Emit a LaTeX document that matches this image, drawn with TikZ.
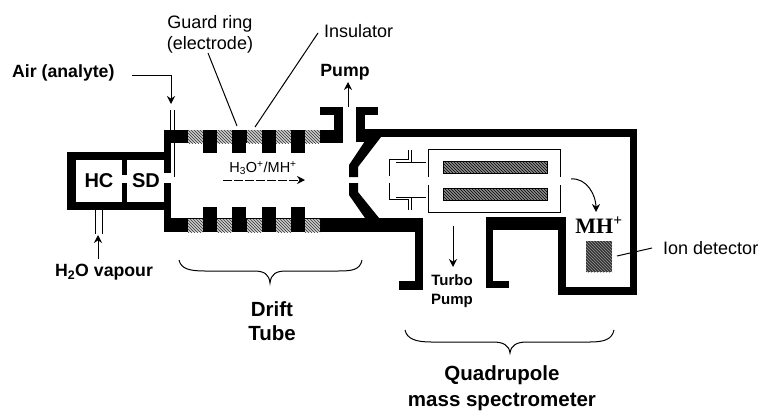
\documentclass[tikz,border=0pt]{standalone}
\usepackage{fontspec}
\setmainfont{Liberation Sans}
\newfontfamily\serifbold{Liberation Serif}[Ligatures=TeX]
\usetikzlibrary{patterns,arrows.meta}
\begin{document}
\begin{tikzpicture}[
		x=1pt,y=-1pt,
		wall/.style={fill=black,draw=none},
		insulator/.style={fill=black!20,postaction={pattern=north west lines,pattern color=black!80}},
		rod/.style={draw=black,line width=0.8pt,fill=black!45,postaction={pattern=north west lines,pattern color=black}},
		thin wire/.style={line width=1pt},
		leader/.style={line width=1pt},
		flow/.style={line width=1pt,-{Stealth[length=8pt,width=8pt]}},
		brace line/.style={line width=1pt},
		label/.style={font=\fontsize{18}{21}\selectfont,inner sep=0pt,align=center},
		bold label/.style={font=\fontsize{17.7}{21}\selectfont\bfseries,inner sep=0pt,align=center},
		box label/.style={font=\fontsize{20}{22}\selectfont\bfseries,inner sep=0pt},
		big label/.style={font=\fontsize{20.5}{24}\selectfont\bfseries,inner sep=0pt,align=center}
	]
	\useasboundingbox (0,0) rectangle (760,410);
	% source box
	\fill[wall] (67,152) rectangle (171,160);
	\fill[wall] (67,202) rectangle (171,210);
	\fill[wall] (67,152) rectangle (76,210);
	\fill[wall] (122,152) rectangle (127,175);
	\fill[wall] (122,183) rectangle (127,210);
	\fill[wall] (164,130) rectangle (171,173);
	\fill[wall] (164,183) rectangle (171,232);
	% drift tube
	\fill[wall] (164,130) rectangle (343,143);
	\fill[wall] (164,218) rectangle (423,232);
	\fill[wall] (334,107) rectangle (343,143);
	\fill[wall] (320,107) rectangle (343,115);
	\fill[wall] (415,218) rectangle (423,290);
	\fill[wall] (399,281) rectangle (423,290);
	\foreach \xpos in {188,217,247,276,305}{
		\fill[insulator] (\xpos,130) rectangle ++(15,13);
		\fill[insulator] (\xpos,219) rectangle ++(15,13);
	}
	\foreach \xpos in {203,232,262,291}{
		\fill[wall] (\xpos,130) rectangle ++(14,23);
		\fill[wall] (\xpos,207) rectangle ++(14,25);
	}
	% skimmer cone
	\fill[wall] (365,137) -- (381,137) -- (358,167) -- (358,177) -- (349,177) -- (349,165) -- (365,141) -- cycle;
	\fill[wall] (349,183) -- (358,183) -- (358,192) -- (379,218) -- (365,218) -- (349,195) -- cycle;
	% mass spectrometer housing
	\fill[wall] (356,107) rectangle (378,115);
	\fill[wall] (356,107) rectangle (365,142);
	\fill[wall] (356,129) rectangle (637,137);
	\fill[wall] (630,129) rectangle (637,295);
	\fill[wall] (558,287) rectangle (637,295);
	\fill[wall] (558,217) rectangle (566,295);
	\fill[wall] (486,217) rectangle (566,230);
	\fill[wall] (486,217) rectangle (493,288);
	\fill[wall] (486,281) rectangle (509,288);
	% quadrupole
	\draw[thin wire] (428,177) |- (560,149) -- (560,177);
	\draw[thin wire] (428,185) |- (560,212) -- (560,185);
	\filldraw[rod] (443,161) rectangle (547,173);
	\filldraw[rod] (443,188) rectangle (547,200);
	\draw[thin wire] (389,176) |- (408,159) -- (408,150);
	\draw[thin wire] (411,150) -- (411,162);
	\draw[thin wire] (396,162) -- (426,162);
	\draw[thin wire] (389,183) |- (408,199) -- (408,210);
	\draw[thin wire] (411,197) -- (411,210);
	\draw[thin wire] (396,197) -- (426,197);
	% ion detector
	\fill[black!80,postaction={pattern=north west lines,pattern color=black!40}] (586,241) rectangle (612,272);
	% inlets
	\draw[thin wire] (170,110) -- (170,130);
	\draw[thin wire] (174,110) -- (174,177);
	\draw[thin wire] (95,210) -- (95,234);
	\draw[thin wire] (102,210) -- (102,234);
	% labels
	\node[box label] (hc) at (99,181) {HC};
	\node[box label] (sd) at (146,181) {SD};
	\node[bold label,anchor=west] (air) at (12,73) {Air (analyte)};
	\node[bold label] (vapour) at (104,272) {H\textsubscript{2}O vapour};
	\node[label] (guard) at (210,34) {Guard ring\\(electrode)};
	\node[label,anchor=west] (insul) at (324,31) {Insulator};
	\node[bold label] (pump) at (345,72) {Pump};
	\node[label,font=\fontsize{14.5}{16}\selectfont] (ions) at (263,168) {H\textsubscript{3}O\textsuperscript{+}/MH\textsuperscript{+}};
	\node[bold label,font=\fontsize{15}{19}\selectfont\bfseries] (turbo) at (452,291) {Turbo\\Pump};
	\node[font=\fontsize{22}{24}\selectfont\serifbold\bfseries,inner sep=0pt] (mh) at (599,225) {MH\textsuperscript{+}};
	\node[label,anchor=west] (detector) at (663,248) {Ion detector};
	\node[big label] (drift) at (272,321) {Drift\\Tube};
	\node[big label,font=\fontsize{20.5}{26}\selectfont\bfseries] (quad) at (502,388) {Quadrupole\\mass spectrometer};
	% connectors
	\coordinate (airstart) at (132,75);
	\coordinate (airend) at (171,104);
	\coordinate (vapstart) at (98,259);
	\coordinate (vapend) at (98,235);
	\coordinate (guardstart) at (208,53);
	\coordinate (guardend) at (237,126);
	\coordinate (insulstart) at (318,33);
	\coordinate (insulend) at (255,127);
	\coordinate (pumpstart) at (348,107);
	\coordinate (pumpend) at (348,82);
	\coordinate (ionstart) at (223,180);
	\coordinate (ionend) at (305,180);
	\coordinate (turbostart) at (453,226);
	\coordinate (turboend) at (453,267);
	\coordinate (curvestart) at (571,179);
	\coordinate (curveend) at (596,212);
	\coordinate (detstart) at (617,256);
	\coordinate (detlabel) at (652,248);
	\draw[flow] (airstart) -| (airend);
	\draw[flow] (vapstart) -- (vapend);
	\draw[leader] (guardstart) -- (guardend);
	\draw[leader] (insulstart) -- (insulend);
	\draw[flow] (pumpstart) -- (pumpend);
	\draw[flow,dash pattern=on 9pt off 2pt] (ionstart) -- (ionend);
	\draw[flow] (turbostart) -- (turboend);
	\draw[flow] (curvestart) to[out=5,in=90] (curveend);
	\draw[leader] (detstart) -- (detlabel);
	% braces
	\draw[brace line] (179,260) .. controls (181,269) and (190,271) .. (205,271) -- (254,271) .. controls (264,271) and (269,274) .. (270,283) .. controls (271,274) and (276,271) .. (286,271) -- (338,271) .. controls (352,271) and (360,270) .. (362,260);
	\draw[brace line] (405,330) .. controls (407,339) and (416,342) .. (431,342) -- (493,342) .. controls (503,342) and (509,345) .. (510,353) .. controls (511,345) and (517,342) .. (527,342) -- (590,342) .. controls (605,342) and (612,339) .. (614,330);
\end{tikzpicture}
\end{document}
